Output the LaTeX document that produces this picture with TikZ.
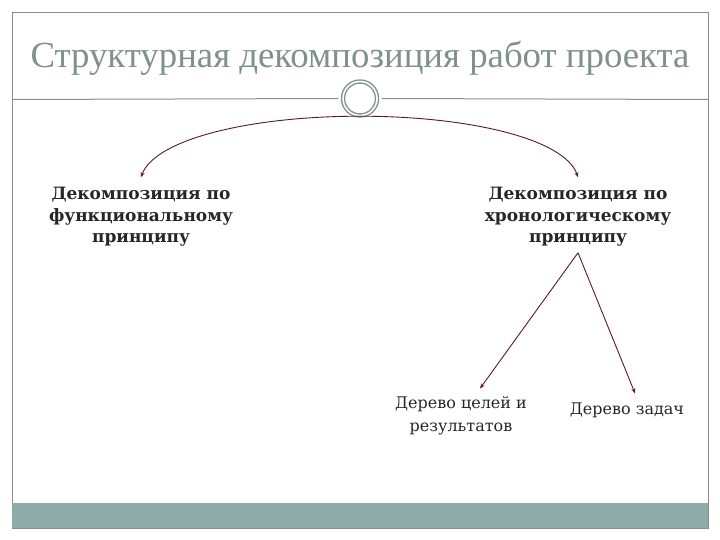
\documentclass[tikz,border=0pt]{standalone}
\usepackage{fontspec}
\setmainfont{Liberation Serif}
\newfontfamily\boxfont{DejaVu Serif}
\usetikzlibrary{arrows.meta,positioning}
\definecolor{titlegray}{HTML}{7F918F}
\definecolor{framegray}{HTML}{8C8C8C}
\definecolor{barteal}{HTML}{8EABA9}
\definecolor{arcred}{HTML}{571C1E}

\begin{document}
\begin{tikzpicture}[
    x=1pt, y=-1pt,
    >={Stealth[length=5pt,width=4pt]},
    every node/.style={text=black!85},
    heading/.style={font=\fontsize{36.8}{44}\selectfont, text=titlegray},
    method/.style={align=center, inner sep=0pt, font=\boxfont\bfseries\fontsize{17}{21.5}\selectfont},
    result/.style={align=center, inner sep=0pt, font=\boxfont\fontsize{16}{23}\selectfont},
    ring/.style={circle, draw=titlegray, line width=1.4pt, double=white, double distance=1.6pt, minimum size=34pt},
    link/.style={->, draw=arcred, line width=0.9pt}
]

\useasboundingbox (0,0) rectangle (720,540);
\draw[framegray] (12,12) rectangle (708,528);
\fill[barteal] (12,503) rectangle (708,528);

\node[heading] (title) at (360,58) {Структурная декомпозиция работ проекта};
\node[ring] (knot) at (360,98.5) {};
\draw[framegray, line width=1pt] (12,99.5) -- ([xshift=-4pt]knot.west);
\draw[framegray, line width=1pt] ([xshift=4pt]knot.east) -- (708,99.5);

\node[method] (func) at (141,217) {Декомпозиция по\\функциональному\\принципу};
\node[method] (chrono) at (578,217) {Декомпозиция по\\хронологическому\\принципу};
\node[result] (goals) at (461,416) {Дерево целей и\\результатов};
\node[result] (tasks) at (627,410) {Дерево задач};

\draw[link] (knot.south) .. controls +(-110,0) and +(14,-38) .. ([yshift=10pt]func.north);
\draw[link] (knot.south) .. controls +(110,0) and +(-13,-38) .. ([yshift=10pt]chrono.north);
\draw[link] ([yshift=-6pt]chrono.south) -- ([xshift=19pt,yshift=8pt]goals.north);
\draw[link] ([yshift=-6pt]chrono.south) -- ([xshift=8pt,yshift=9pt]tasks.north);

\end{tikzpicture}
\end{document}
